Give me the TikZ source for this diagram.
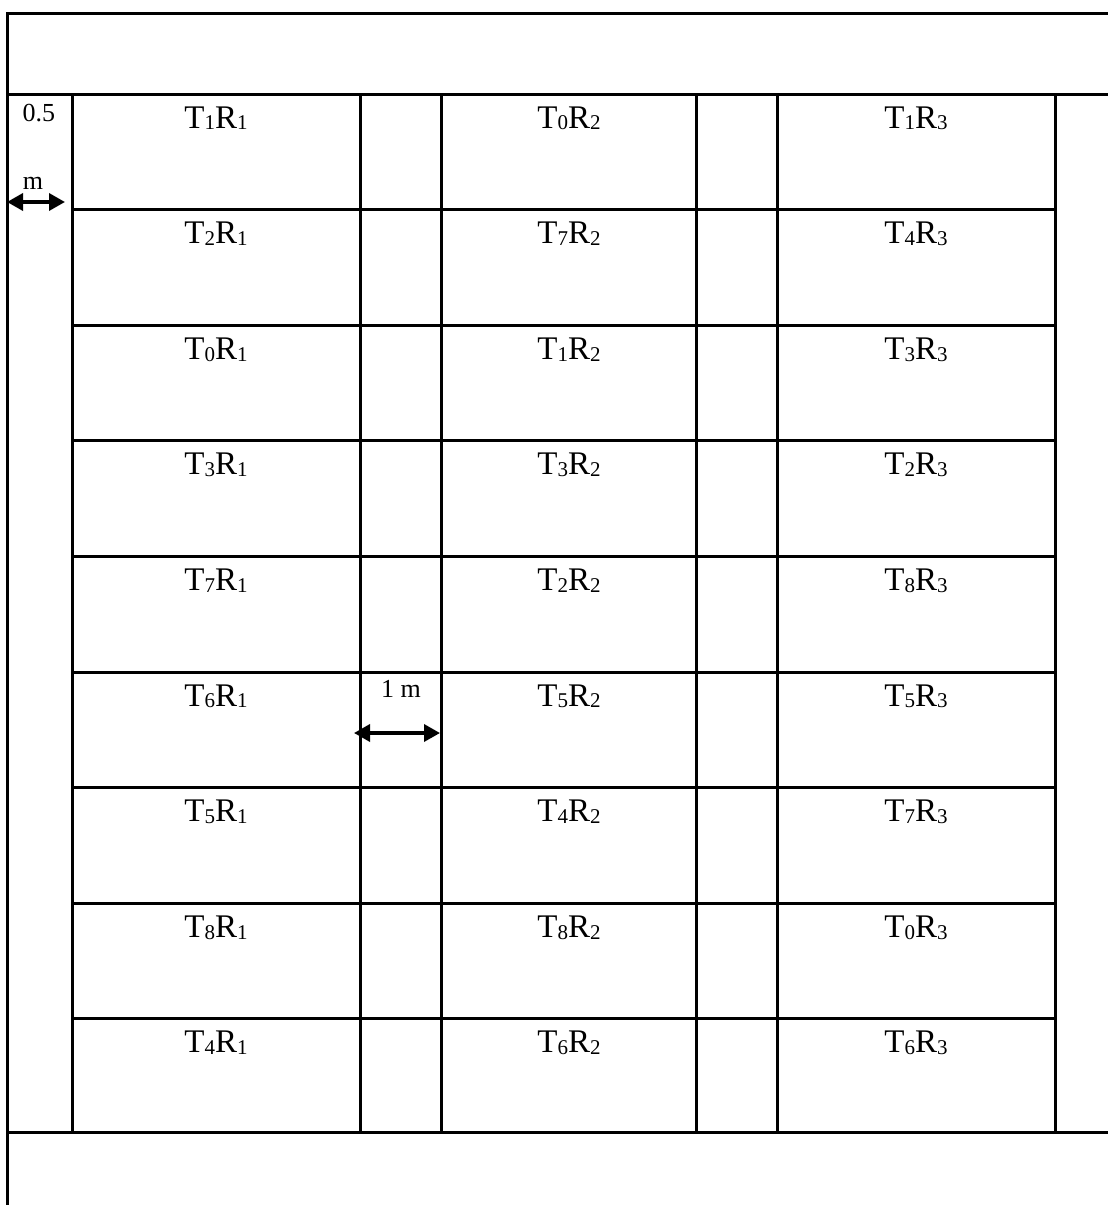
\documentclass[tikz,border=0pt]{standalone}
\usepackage{fontspec}
\setmainfont{Liberation Serif}
\usetikzlibrary{arrows.meta}
\newcommand\subtxt[1]{\raisebox{-0.06em}{\fontsize{21}{23}\selectfont #1}}
\begin{document}
\begin{tikzpicture}[x=1pt,y=-1pt,
  gridline/.style={line width=3pt},
  lab/.style={font=\fontsize{33}{36}\selectfont, anchor=base, inner sep=0pt},
  smalllab/.style={font=\fontsize{26}{28}\selectfont, anchor=base, inner sep=0pt},
  dimarrow/.style={line width=3.5pt, {Triangle[length=16pt,width=17pt]}-{Triangle[length=16pt,width=17pt]}}]
\useasboundingbox (0,0) rectangle (1108,1205);
% outer frame lines
\draw[gridline] (7,1205) -- (7,13) -- (1108,13);
\draw[gridline] (7,94) -- (1108,94);
\draw[gridline] (7,1132) -- (1108,1132);
% vertical lines
\foreach \x in {72,360,441,696,777,1055} \draw[gridline] (\x,94) -- (\x,1132);
% row lines
\foreach \y in {209.6,325.2,440.8,556.4,672,787.6,903.2,1018.8} \draw[gridline] (72,\y) -- (1055,\y);
% labels
\foreach \y/\p/\q/\r [count=\i] in {128/1/0/1, 243.6/2/7/4, 359.2/0/1/3, 474.8/3/3/2, 590.4/7/2/8, 706/6/5/5, 821.6/5/4/7, 937.2/8/8/0, 1052.8/4/6/6}{
  \node[lab] (a\i) at (216,\y) {T\subtxt{\p}R\subtxt{1}};
  \node[lab] (b\i) at (569,\y) {T\subtxt{\q}R\subtxt{2}};
  \node[lab] (c\i) at (916,\y) {T\subtxt{\r}R\subtxt{3}};
}
% dimension labels
\node[smalllab] (halfnum) at (39,121) {0.5};
\node[smalllab] (halfunit) at (33,189) {m};
\node[smalllab] (onem) at (401,697) {1 m};
\coordinate (h1) at (7,202);
\coordinate (h2) at (65,202);
\coordinate (m1) at (354,733);
\coordinate (m2) at (440,733);
\draw[dimarrow] (h1) -- (h2);
\draw[dimarrow] (m1) -- (m2);
\end{tikzpicture}
\end{document}
